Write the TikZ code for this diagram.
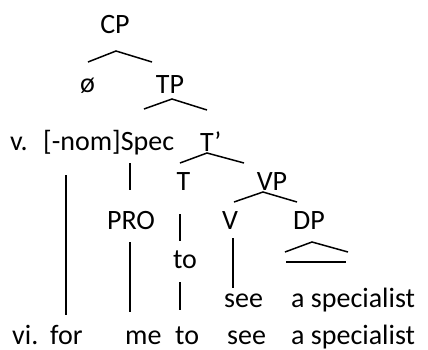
\documentclass[tikz,border=0pt]{standalone}
\usepackage{fontspec}
\setmainfont{Carlito}
\usepackage{tikz}
\usetikzlibrary{positioning, calc}
\tikzset{
	treetext/.style={font=\fontsize{28bp}{34bp}\selectfont, inner sep=0pt, anchor=base}
}
\tikzset{
	treetextw/.style={treetext, anchor=base west}
}
\tikzset{
	branch/.style={line width=1.5bp, line join=miter}
}

\begin{document}
\begin{tikzpicture}[x=1bp, y=-1bp]

			\useasboundingbox (0,0) rectangle (428,350);

			% tree labels
			\begin{scope}
				\node[treetext] (cp) at (115,33) {CP};
				\node[treetext] (zero) at (87.5,92) {ø};
				\node[treetext] (tp) at (170,93) {TP};
				\node[treetextw] (ex5) at (10,150) {v.};
				\node[treetextw] (spec) at (43,150) {[-nom]Spec};
				\node[treetextw] (tbar) at (200,151) {T’};
				\node[treetext] (t) at (183.5,190) {T};
				\node[treetext] (vp) at (272,190) {VP};
				\node[treetext] (pro) at (131,229) {PRO};
				\node[treetext] (v) at (230,229) {V};
				\node[treetext] (dp) at (309,229) {DP};
				\node[treetext] (toA) at (185,268) {to};
				\node[treetextw] (seeA) at (224,307) {see};
				\node[treetextw] (specialistA) at (291,307) {a specialist};
			\end{scope}

			% example vi
			\begin{scope}
				\node[treetextw] (ex6) at (12,344) {vi.};
				\node[treetextw] (for) at (50,344) {for};
				\node[treetextw] (me) at (125,344) {me};
				\node[treetextw] (toB) at (175,344) {to};
				\node[treetextw] (seeB) at (227,344) {see};
				\node[treetextw] (specialistB) at (291,344) {a specialist};
			\end{scope}

			% branches
			\begin{scope}
				\coordinate (cpL) at (88,62);
				\coordinate (cpA) at (116,51);
				\coordinate (cpR) at (152,62);
				\coordinate (tpL) at (144,109);
				\coordinate (tpA) at (172,99);
				\coordinate (tpR) at (207,110);
				\coordinate (tbL) at (180,163);
				\coordinate (tbA) at (207,153);
				\coordinate (tbR) at (244,163);
				\coordinate (vpL) at (234,202);
				\coordinate (vpA) at (263,192);
				\coordinate (vpR) at (297,202);
				\coordinate (dpL) at (285,252);
				\coordinate (dpA) at (312,242);
				\coordinate (dpR) at (348,252);
				\coordinate (dpBL) at (286,262);
				\coordinate (dpBR) at (346,262);

				\draw[branch] (cpL) -- (cpA) -- (cpR);
				\draw[branch] (tpL) -- (tpA) -- (tpR);
				\draw[branch] (tbL) -- (tbA) -- (tbR);
				\draw[branch] (vpL) -- (vpA) -- (vpR);
				\draw[branch] (dpL) -- (dpA) -- (dpR);
				\draw[branch] (dpBL) -- (dpBR);
			\end{scope}

			% vertical links
			\begin{scope}
				\coordinate (forTop) at (66,175);
				\coordinate (forBot) at (66,315);
				\coordinate (specBot) at (130,163);
				\coordinate (proTop) at (130,190);
				\coordinate (proBot) at (130,242);
				\coordinate (meTop) at (130,312);
				\coordinate (tBot) at (180,214);
				\coordinate (toTop) at (180,241);
				\coordinate (toBot) at (180,282);
				\coordinate (toBTop) at (180,310);
				\coordinate (vBot) at (233,238);
				\coordinate (seeTop) at (233,288);

				\draw[branch] (forTop) -- (forBot);
				\draw[branch] (specBot) -- (proTop);
				\draw[branch] (proBot) -- (meTop);
				\draw[branch] (tBot) -- (toTop);
				\draw[branch] (toBot) -- (toBTop);
				\draw[branch] (vBot) -- (seeTop);
			\end{scope}

		\end{tikzpicture}
\end{document}
